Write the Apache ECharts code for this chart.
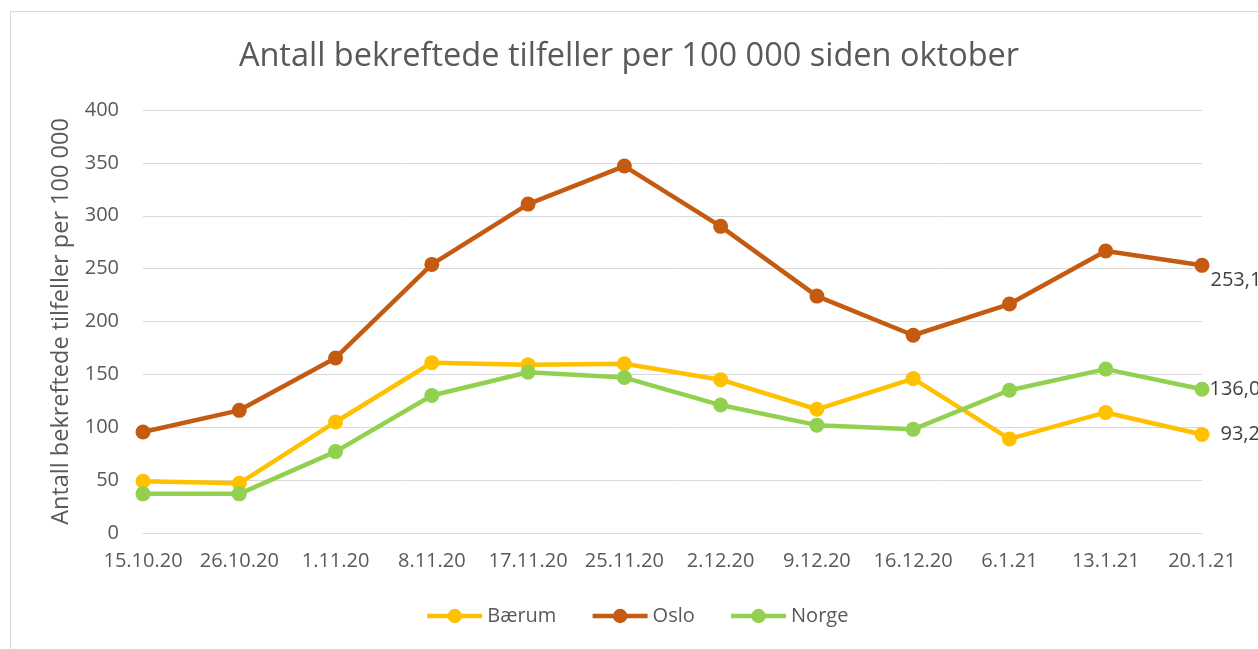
<!DOCTYPE html>
<html>
<head>
<meta charset="utf-8">
<script src="https://cdn.jsdelivr.net/npm/echarts@6/dist/echarts.min.js"></script>
<style>
    html, body { margin: 0; padding: 0; background: #fff; }
    #frame {
        position: absolute;
        left: 10px;
        top: 11px;
        width: 1260px;
        height: 650px;
        border: 1px solid #d9d9d9;
        box-sizing: border-box;
    }
    #chart { position: absolute; left: 0; top: 0; width: 1258px; height: 649px; }
</style>
</head>
<body>
<div id="frame"></div>
<div id="chart"></div>
<script>
const dates = ['15.10.20', '26.10.20', '1.11.20', '8.11.20', '17.11.20', '25.11.20', '2.12.20', '9.12.20', '16.12.20', '6.1.21', '13.1.21', '20.1.21'];
const baerum = [49, 47, 105, 161, 159, 160, 145, 117, 146, 89, 114, 93.2];
const oslo = [95.5, 116, 165.5, 254, 311, 347, 290, 224, 187, 216.5, 266.7, 253.1];
const norge = [37, 37, 77, 130, 152, 147, 121, 102, 98, 135, 155, 136.0];
const yTicks = [0, 50, 100, 150, 200, 250, 300, 350, 400];

const textColor = '#595959';
const font = 'Open Sans';

// siste punkt får verdietikett
function withEndLabel(values, offset) {
    return values.map((v, i) => {
        if (i !== values.length - 1) return v;
        return {
            value: v,
            label: {
                show: true,
                position: 'right',
                offset: offset,
                formatter: p => p.value.toFixed(1).replace('.', ','),
                color: '#404040',
                fontFamily: font,
                fontSize: 20
            }
        };
    });
}

const chart = echarts.init(document.getElementById('chart'));
chart.setOption({
    animation: false,
    title: {
        text: 'Antall bekreftede tilfeller per 100 000 siden oktober',
        left: 'center',
        top: 35,
        textStyle: { color: textColor, fontFamily: font, fontSize: 32.5, fontWeight: 'normal' }
    },
    legend: {
        top: 601,
        left: 420,
        itemWidth: 55,
        itemHeight: 18,
        itemGap: 34,
        lineStyle: { width: 4.5 },
        textStyle: { color: textColor, fontFamily: font, fontSize: 20 },
        data: ['Bærum', 'Oslo', 'Norge']
    },
    grid: { left: 143, right: 56, top: 110, bottom: 116 },
    xAxis: {
        type: 'category',
        boundaryGap: false,
        data: dates,
        axisLine: { lineStyle: { color: '#d9d9d9', width: 1 } },
        axisTick: { show: false },
        axisLabel: { color: textColor, fontFamily: font, fontSize: 20, margin: 18, interval: 0 }
    },
    yAxis: {
        type: 'value',
        min: yTicks[0],
        max: yTicks[yTicks.length - 1],
        interval: 50,
        name: 'Antall bekreftede tilfeller per 100 000',
        nameLocation: 'middle',
        nameGap: 81,
        nameTextStyle: { color: textColor, fontFamily: font, fontSize: 23.5, verticalAlign: 'middle' },
        axisLine: { show: false },
        axisTick: { show: false },
        axisLabel: { color: textColor, fontFamily: font, fontSize: 20, margin: 24 },
        splitLine: { lineStyle: { color: '#d9d9d9', width: 1 } }
    },
    series: [
        {
            name: 'Bærum', type: 'line', data: withEndLabel(baerum, [6, 0]),
            symbol: 'circle', symbolSize: 15,
            lineStyle: { width: 4.5, color: '#FFC000' },
            itemStyle: { color: '#FFC000' }
        },
        {
            name: 'Oslo', type: 'line', data: withEndLabel(oslo, [-4, 15]),
            symbol: 'circle', symbolSize: 15,
            lineStyle: { width: 4.5, color: '#C55A11' },
            itemStyle: { color: '#C55A11' }
        },
        {
            name: 'Norge', type: 'line', data: withEndLabel(norge, [-5, 0]),
            symbol: 'circle', symbolSize: 15,
            lineStyle: { width: 4.5, color: '#92D050' },
            itemStyle: { color: '#92D050' }
        }
    ]
});
</script>
</body>
</html>
